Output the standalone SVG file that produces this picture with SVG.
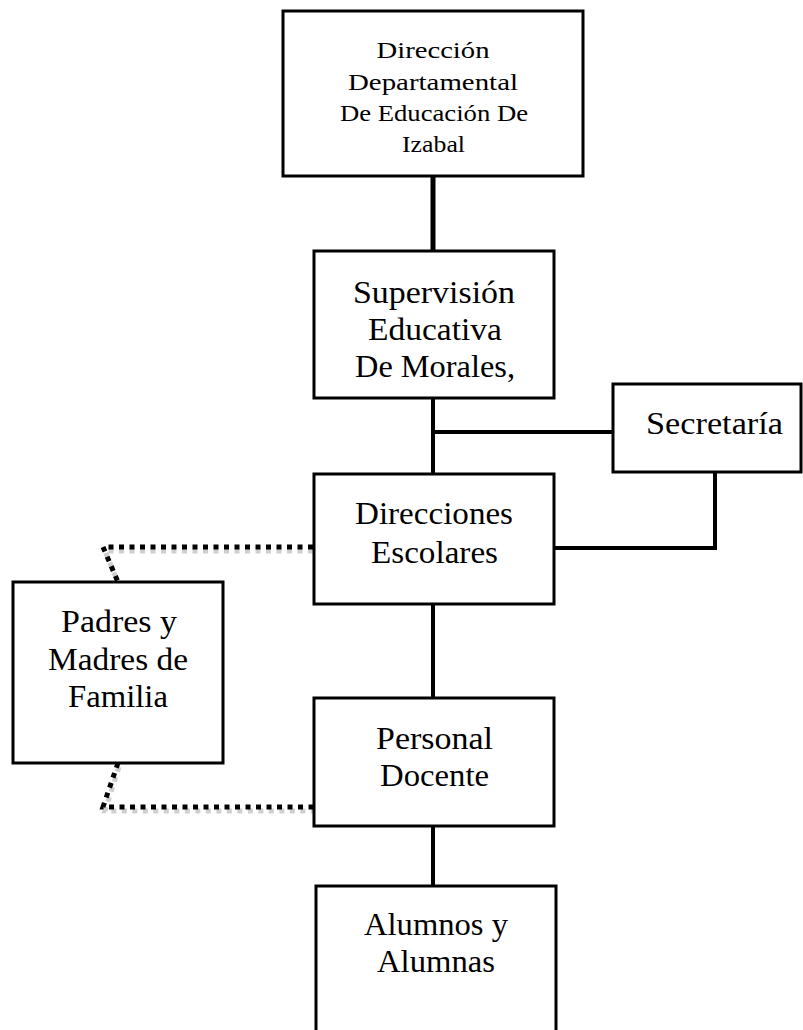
<svg xmlns="http://www.w3.org/2000/svg" width="803" height="1030" viewBox="0 0 803 1030">
<style>
.box{fill:#fff;stroke:#000;stroke-width:3}
.t{font-family:"Liberation Serif","DejaVu Serif",serif;font-size:31px;fill:#000;text-anchor:middle}
.ts{font-size:23.5px}
.ln{fill:none;stroke:#000;stroke-width:4}
.dot{fill:none;stroke:#000;stroke-width:5;stroke-dasharray:5 5.5}
.sh{fill:none;stroke:#cfcfcf;stroke-width:5;stroke-dasharray:5 5.5}
</style>
<rect width="803" height="1030" fill="#fff"/>
<g id="connectors">
<line class="ln" x1="433" y1="176" x2="433" y2="251" style="stroke-width:5"/>
<line class="ln" x1="433" y1="398" x2="433" y2="474"/>
<line class="ln" x1="433" y1="432" x2="613" y2="432"/>
<polyline class="ln" points="715,472 715,548 554,548"/>
<line class="ln" x1="433" y1="604" x2="433" y2="698"/>
<line class="ln" x1="433" y1="826" x2="433" y2="886"/>
<polyline class="sh" points="313,551 105,551 119,585"/>
<polyline class="dot" points="313,547 103,547 118,582"/>
<polyline class="sh" points="119,767 105,811 313,811"/>
<polyline class="dot" points="118,763 103,807 313,807"/>
</g>
<g id="direccion-departamental">
<rect class="box" x="283" y="11" width="300" height="165"/>
<text class="t ts" x="433" y="58" textLength="113" lengthAdjust="spacingAndGlyphs">Dirección</text>
<text class="t ts" x="433" y="89.5" textLength="170" lengthAdjust="spacingAndGlyphs">Departamental</text>
<text class="t ts" x="434" y="121" textLength="188" lengthAdjust="spacingAndGlyphs">De Educación De</text>
<text class="t ts" x="433.5" y="152" textLength="63" lengthAdjust="spacingAndGlyphs">Izabal</text>
</g>
<g id="supervision">
<rect class="box" x="314" y="251" width="240" height="147"/>
<text class="t" x="434" y="303" textLength="162" lengthAdjust="spacingAndGlyphs">Supervisión</text>
<text class="t" x="435" y="340" textLength="134" lengthAdjust="spacingAndGlyphs">Educativa</text>
<text class="t" x="435" y="377" textLength="160" lengthAdjust="spacingAndGlyphs">De Morales,</text>
</g>
<g id="secretaria">
<rect class="box" x="613" y="384" width="188" height="88"/>
<text class="t" x="714.5" y="434" textLength="137" lengthAdjust="spacingAndGlyphs">Secretaría</text>
</g>
<g id="direcciones-escolares">
<rect class="box" x="314" y="474" width="240" height="130"/>
<text class="t" x="434" y="524" textLength="158" lengthAdjust="spacingAndGlyphs">Direcciones</text>
<text class="t" x="434.5" y="563" textLength="127" lengthAdjust="spacingAndGlyphs">Escolares</text>
</g>
<g id="padres">
<rect class="box" x="13" y="582" width="210" height="181"/>
<text class="t" x="119" y="632" textLength="116" lengthAdjust="spacingAndGlyphs">Padres y</text>
<text class="t" x="118" y="670" textLength="140" lengthAdjust="spacingAndGlyphs">Madres de</text>
<text class="t" x="118" y="707" textLength="100" lengthAdjust="spacingAndGlyphs">Familia</text>
</g>
<g id="personal-docente">
<rect class="box" x="314" y="698" width="240" height="128"/>
<text class="t" x="434.5" y="749" textLength="117" lengthAdjust="spacingAndGlyphs">Personal</text>
<text class="t" x="434.5" y="786" textLength="109" lengthAdjust="spacingAndGlyphs">Docente</text>
</g>
<g id="alumnos">
<rect class="box" x="316" y="886" width="240" height="160"/>
<text class="t" x="436" y="935" textLength="144" lengthAdjust="spacingAndGlyphs">Alumnos y</text>
<text class="t" x="436" y="972" textLength="118" lengthAdjust="spacingAndGlyphs">Alumnas</text>
</g>
</svg>
